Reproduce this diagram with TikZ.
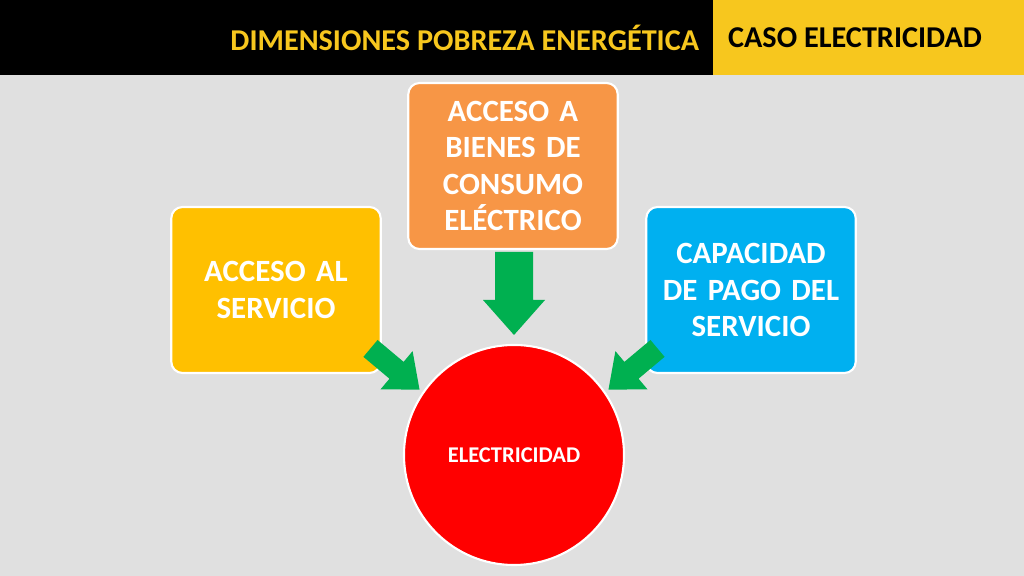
\documentclass[tikz,border=0pt]{standalone}
\usepackage{fontspec}
\setmainfont{Carlito}
\definecolor{bgGray}{HTML}{E0E0E0}
\definecolor{barYellow}{HTML}{F7C71E}
\definecolor{boxYellow}{HTML}{FFC000}
\definecolor{boxOrange}{HTML}{F79646}
\definecolor{boxBlue}{HTML}{00B0F0}
\definecolor{arrowGreen}{HTML}{00B050}
\definecolor{circleRed}{HTML}{FF0000}
\tikzset{
  dimbox/.style={draw=white, line width=1.5pt, rounded corners=8pt, minimum width=5.2cm, minimum height=4.15cm, text width=5cm, align=center, font=\fontsize{22}{26}\selectfont\bfseries, text=white},
  greenarrow/.style={fill=arrowGreen}
}
\begin{document}
\begin{tikzpicture}[x=0.025cm,y=0.025cm]

% Background and title bar
\fill[bgGray] (0,0) rectangle (1024,576);
\fill[black] (0,501) rectangle (713,576);
\fill[barYellow] (713,501) rectangle (1024,576);
\node[anchor=east, text=barYellow, font=\fontsize{21.5}{24}\selectfont\bfseries] (title) at (704,538) {DIMENSIONES POBREZA ENERGÉTICA};
\node[text=black, font=\fontsize{21.5}{24}\selectfont\bfseries] (case) at (855,538) {CASO ELECTRICIDAD};

% Dimension boxes
\node[dimbox, fill=boxYellow] (access) at (276,286) {ACCESO AL\\SERVICIO};
\node[dimbox, fill=boxOrange] (goods) at (513,410) {ACCESO A\\BIENES DE\\CONSUMO\\ELÉCTRICO};
\node[dimbox, fill=boxBlue] (payment) at (751,286) {CAPACIDAD\\DE PAGO DEL\\SERVICIO};

% Central circle
\node[circle, draw=white, line width=1.5pt, fill=circleRed, minimum size=5.5cm, text=white, font=\fontsize{16}{19}\selectfont\bfseries] (elec) at (514,121) {ELECTRICIDAD};

% Green arrows towards the circle
\fill[greenarrow] (495,324) -- (533,324) -- (533,276) -- (545,276) -- (514,241) -- (483,276) -- (495,276) -- cycle;
\begin{scope}[shift={(395,207)}, rotate=-40]
\fill[greenarrow] (-32,-11) -- (2,-11) -- (2,-25) -- (32,0) -- (2,25) -- (2,11) -- (-32,11) -- cycle;
\end{scope}
\begin{scope}[shift={(633,207)}, rotate=220]
\fill[greenarrow] (-32,-11) -- (2,-11) -- (2,-25) -- (32,0) -- (2,25) -- (2,11) -- (-32,11) -- cycle;
\end{scope}

\end{tikzpicture}
\end{document}
